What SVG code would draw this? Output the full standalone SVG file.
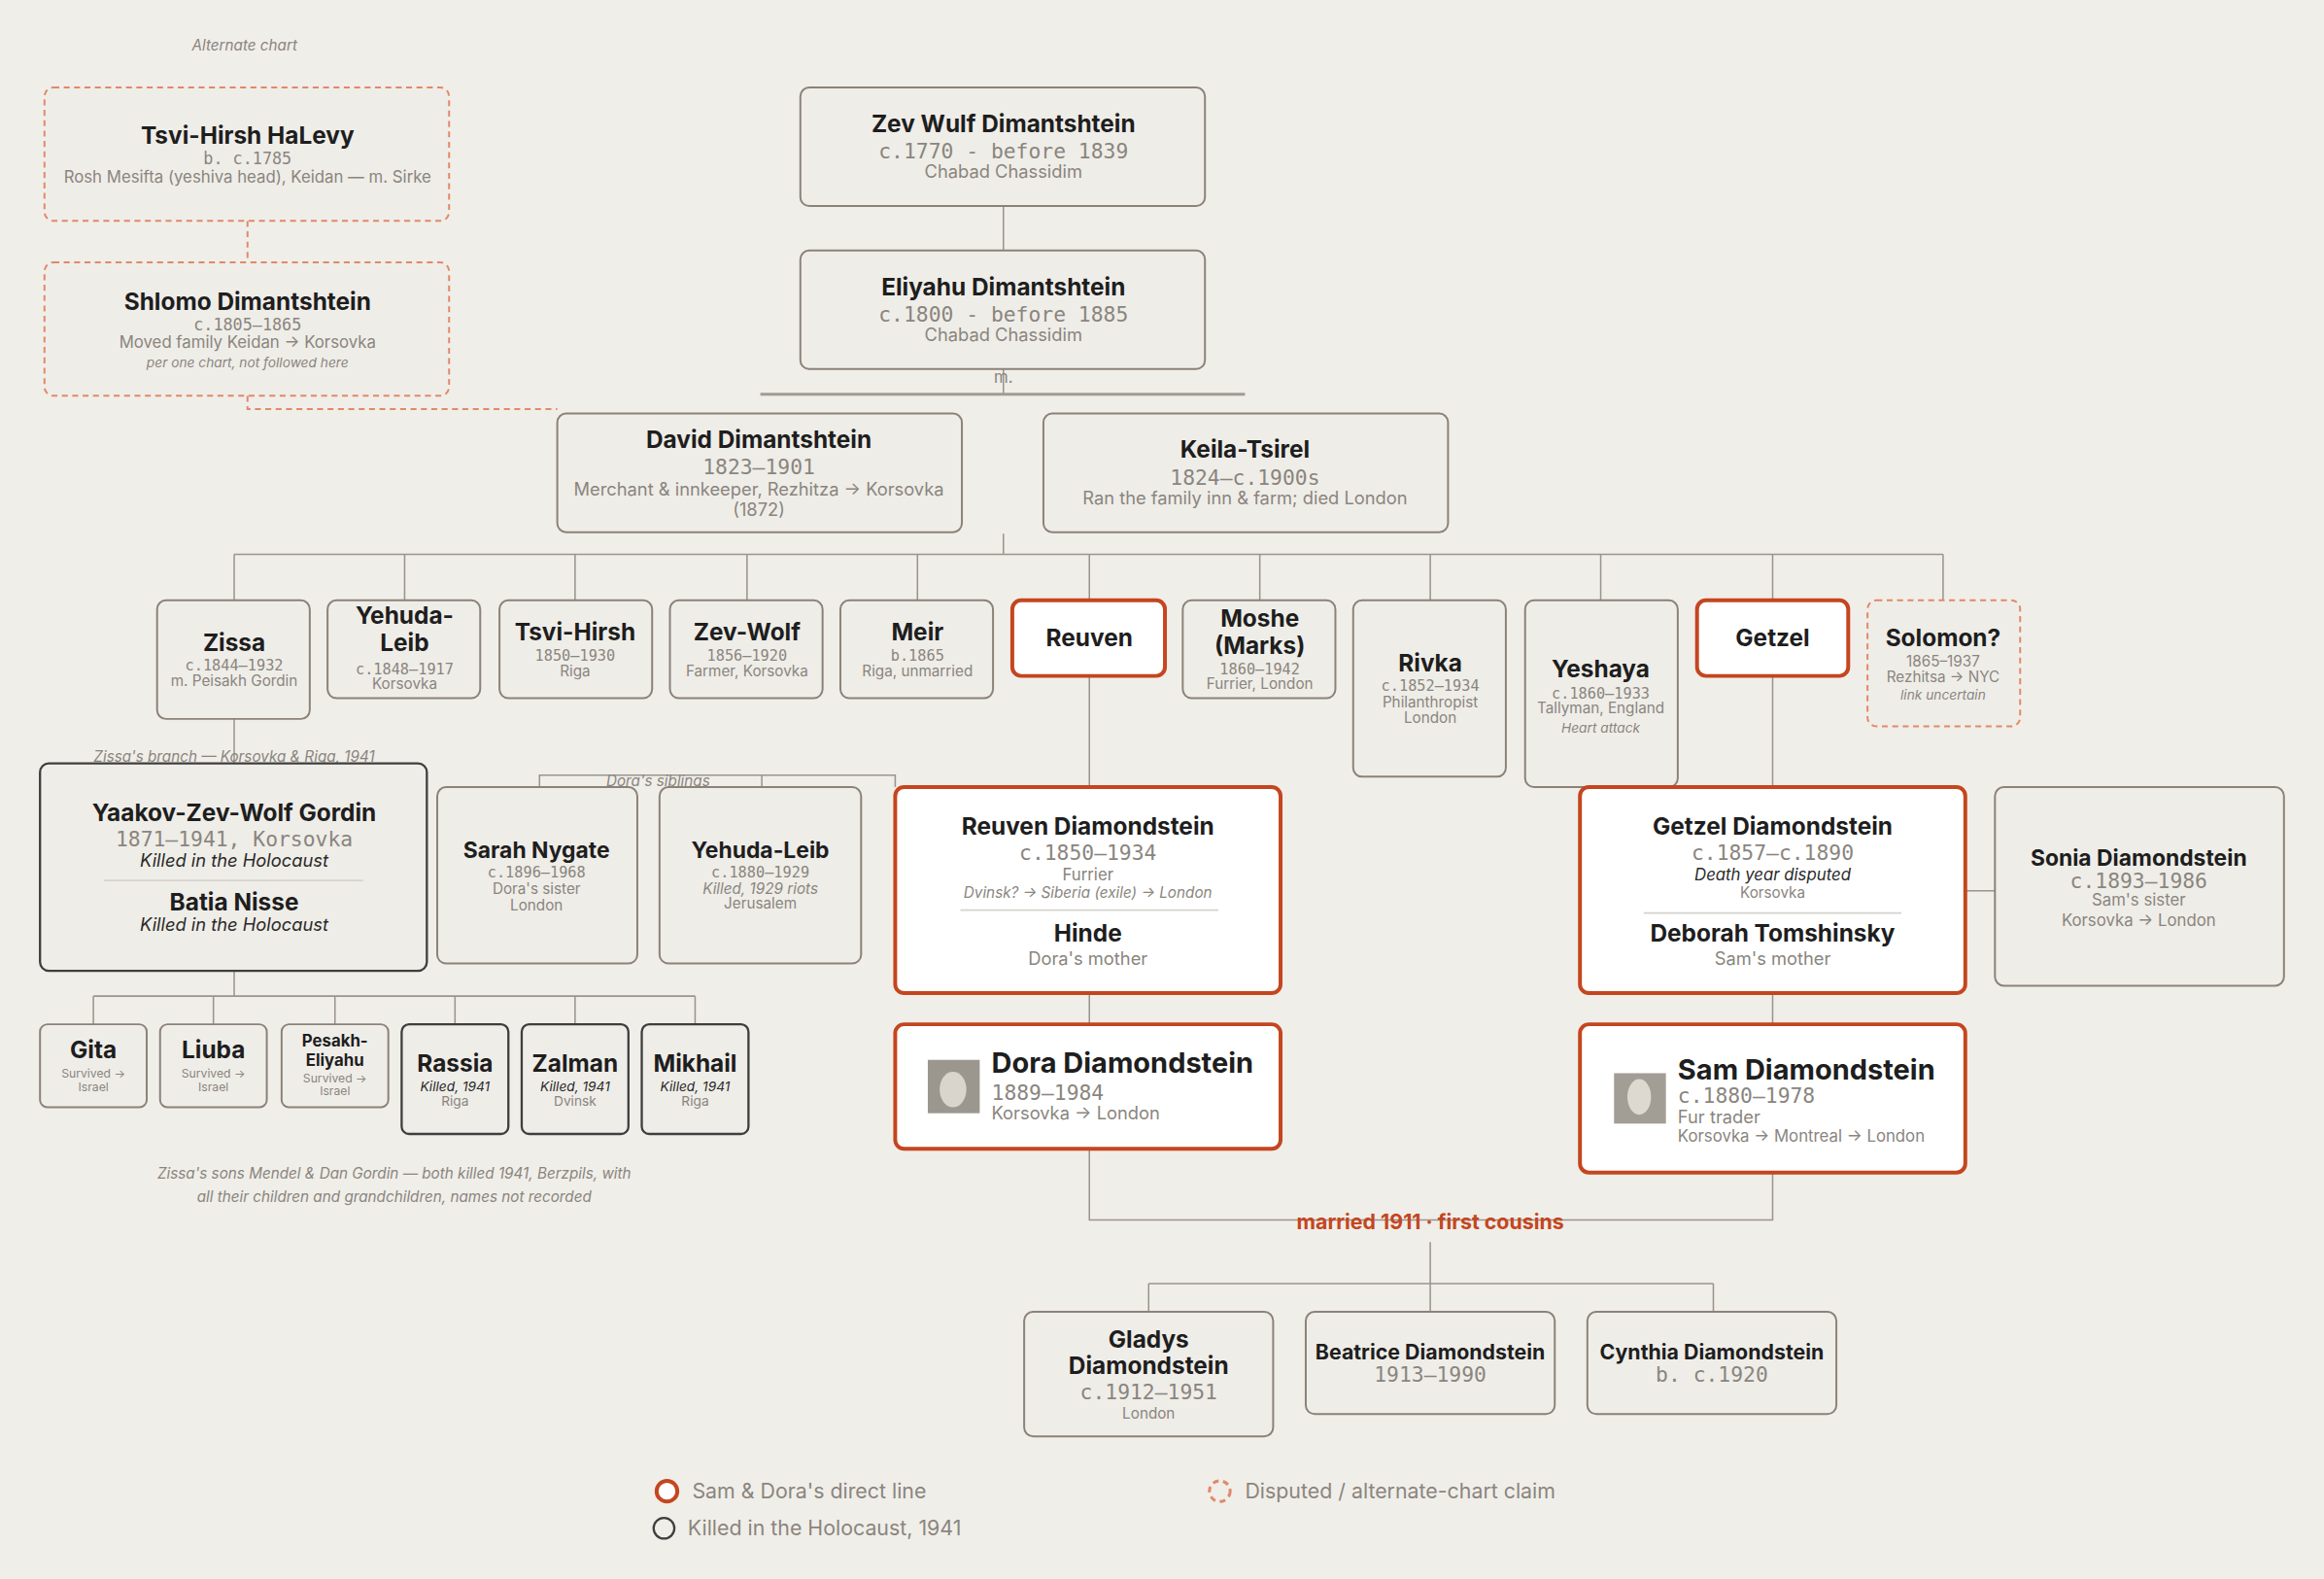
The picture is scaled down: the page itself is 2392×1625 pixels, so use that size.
<svg xmlns="http://www.w3.org/2000/svg" width="2392" height="1625" viewBox="0 0 2392 1625">
<style>
.b{fill:#efede8;stroke:#8b8278;stroke-width:1.3}
.r{fill:#ffffff;stroke:#c4461f;stroke-width:2.6}
.d{fill:#efede8;stroke:#e0896a;stroke-width:1.3;stroke-dasharray:4 3}
.k{fill:#efede8;stroke:#3e3e3e;stroke-width:1.5}
.ln{stroke:#9a948c;stroke-width:1;fill:none}
.dl{stroke:#e0896a;stroke-width:1.3;stroke-dasharray:4 3;fill:none}
text{font-family:Inter,"Liberation Sans",sans-serif;text-anchor:middle;fill:#8a857e}
.t{font-weight:700;fill:#1e1e1e}
.m{font-family:"DejaVu Sans Mono","Liberation Mono",monospace}
.i{font-style:italic}
.dk{fill:#2a2a2a}
.red{fill:#c4461f;font-weight:700}
.s{text-anchor:start}
.sep{stroke:#d6d3cd;stroke-width:1.2}
</style>
<rect width="2392" height="1625" fill="#f0eee9"/>
<g transform="scale(1.5255)">
<g id="connectors">
<path class="dl" d="M167 149V177M167 267V276H376"/>
<path class="ln" d="M677 139V169M677 249V266M677 360V374M158 374H1311M158 374V405M273 374V405M388 374V405M504 374V405M619 374V405M735 374V405M850 374V405M965 374V405M1080 374V405M1196 374V405M1311 374V405"/>
<path d="M513 266H840" stroke="#a19b93" stroke-width="2"/>
<path class="ln" d="M158 485V515M158 655V672M63 672H469M63 672V691M144 672V691M226 672V691M307 672V691M388 672V691M469 672V691"/>
<path class="ln" d="M364 531V523H604V531M514 523V531"/>
<path class="ln" d="M735 456V531M735 670V691M1196 456V531M1196 670V691M1326 601H1346"/>
<path class="ln" d="M735 775V823H1196V791"/>
<path class="ln" d="M965 838V866M775 866H1156M775 866V885M965 866V885M1156 866V885"/>
</g>
<text x="165" y="34" font-size="10" class="i">Alternate chart</text>
<g id="tsvi-hirsh-halevy"><rect class="d" x="30" y="59" width="273" height="90" rx="6"/>
<text x="167" y="97" font-size="16" class="t">Tsvi-Hirsh HaLevy</text><text x="167" y="111" font-size="11" class="m">b. c.1785</text><text x="167" y="123" font-size="11">Rosh Mesifta (yeshiva head), Keidan — m. Sirke</text></g>
<g id="shlomo"><rect class="d" x="30" y="177" width="273" height="90" rx="6"/>
<text x="167" y="209" font-size="16" class="t">Shlomo Dimantshtein</text><text x="167" y="223" font-size="11" class="m">c.1805–1865</text><text x="167" y="235" font-size="11">Moved family Keidan → Korsovka</text><text x="167" y="248" font-size="9" class="i">per one chart, not followed here</text></g>
<g id="zev"><rect class="b" x="540" y="59" width="273" height="80" rx="6"/>
<text x="677" y="89" font-size="16" class="t">Zev Wulf Dimantshtein</text><text x="677" y="107" font-size="14" class="m">c.1770 - before 1839</text><text x="677" y="120" font-size="12">Chabad Chassidim</text></g>
<g id="eliyahu"><rect class="b" x="540" y="169" width="273" height="80" rx="6"/>
<text x="677" y="199" font-size="16" class="t">Eliyahu Dimantshtein</text><text x="677" y="217" font-size="14" class="m">c.1800 - before 1885</text><text x="677" y="230" font-size="12">Chabad Chassidim</text></g>
<text x="677" y="258" font-size="11">m.</text>
<g id="david"><rect class="b" x="376" y="279" width="273" height="80" rx="6"/>
<text x="512" y="302" font-size="16" class="t">David Dimantshtein</text><text x="512" y="320" font-size="14" class="m">1823–1901</text><text x="512" y="334" font-size="12">Merchant &amp; innkeeper, Rezhitza → Korsovka</text><text x="512" y="348" font-size="12">(1872)</text></g>
<g id="keila"><rect class="b" x="704" y="279" width="273" height="80" rx="6"/>
<text x="840" y="309" font-size="16" class="t">Keila-Tsirel</text><text x="840" y="327" font-size="14" class="m">1824–c.1900s</text><text x="840" y="340" font-size="12">Ran the family inn &amp; farm; died London</text></g>
<g id="zissa"><rect class="b" x="106" y="405" width="103" height="80" rx="6"/>
<text x="158" y="439" font-size="16" class="t">Zissa</text><text x="158" y="452" font-size="10" class="m">c.1844–1932</text><text x="158" y="463" font-size="10">m. Peisakh Gordin</text></g>
<g id="yehuda-leib"><rect class="b" x="221" y="405" width="103" height="66" rx="6"/>
<text x="273" y="421" font-size="16" class="t">Yehuda-</text><text x="273" y="439" font-size="16" class="t">Leib</text><text x="273" y="455" font-size="10" class="m">c.1848–1917</text><text x="273" y="465" font-size="10">Korsovka</text></g>
<g id="tsvi-hirsh"><rect class="b" x="337" y="405" width="103" height="66" rx="6"/>
<text x="388" y="432" font-size="16" class="t">Tsvi-Hirsh</text><text x="388" y="446" font-size="10" class="m">1850–1930</text><text x="388" y="456" font-size="10">Riga</text></g>
<g id="zev-wolf"><rect class="b" x="452" y="405" width="103" height="66" rx="6"/>
<text x="504" y="432" font-size="16" class="t">Zev-Wolf</text><text x="504" y="446" font-size="10" class="m">1856–1920</text><text x="504" y="456" font-size="10">Farmer, Korsovka</text></g>
<g id="meir"><rect class="b" x="567" y="405" width="103" height="66" rx="6"/>
<text x="619" y="432" font-size="16" class="t">Meir</text><text x="619" y="446" font-size="10" class="m">b.1865</text><text x="619" y="456" font-size="10">Riga, unmarried</text></g>
<g id="reuven"><rect class="r" x="683" y="405" width="103" height="51" rx="6"/>
<text x="735" y="436" font-size="16" class="t">Reuven</text></g>
<g id="moshe"><rect class="b" x="798" y="405" width="103" height="66" rx="6"/>
<text x="850" y="423" font-size="16" class="t">Moshe</text><text x="850" y="441" font-size="16" class="t">(Marks)</text><text x="850" y="455" font-size="10" class="m">1860–1942</text><text x="850" y="465" font-size="10">Furrier, London</text></g>
<g id="rivka"><rect class="b" x="913" y="405" width="103" height="119" rx="6"/>
<text x="965" y="453" font-size="16" class="t">Rivka</text><text x="965" y="466" font-size="10" class="m">c.1852–1934</text><text x="965" y="477" font-size="10">Philanthropist</text><text x="965" y="488" font-size="10">London</text></g>
<g id="yeshaya"><rect class="b" x="1029" y="405" width="103" height="126" rx="6"/>
<text x="1080" y="457" font-size="16" class="t">Yeshaya</text><text x="1080" y="471" font-size="10" class="m">c.1860–1933</text><text x="1080" y="481" font-size="10">Tallyman, England</text><text x="1080" y="494" font-size="9" class="i">Heart attack</text></g>
<g id="getzel"><rect class="r" x="1145" y="405" width="102" height="51" rx="6"/>
<text x="1196" y="436" font-size="16" class="t">Getzel</text></g>
<g id="solomon"><rect class="d" x="1260" y="405" width="103" height="85" rx="6"/>
<text x="1311" y="436" font-size="16" class="t">Solomon?</text><text x="1311" y="450" font-size="10">1865–1937</text><text x="1311" y="460" font-size="10">Rezhitsa → NYC</text><text x="1311" y="472" font-size="9" class="i">link uncertain</text></g>
<text x="158" y="514" font-size="10" class="i">Zissa's branch — Korsovka &amp; Riga, 1941</text>
<g id="yaakov"><rect class="k" x="27" y="515" width="261" height="140" rx="6"/>
<text x="158" y="554" font-size="16" class="t">Yaakov-Zev-Wolf Gordin</text><text x="158" y="571" font-size="14" class="m">1871–1941, Korsovka</text><text x="158" y="585" font-size="12" class="i dk">Killed in the Holocaust</text>
<line class="sep" x1="70" y1="594" x2="245" y2="594"/>
<text x="158" y="614" font-size="16" class="t">Batia Nisse</text><text x="158" y="628" font-size="12" class="i dk">Killed in the Holocaust</text></g>
<text x="444" y="530" font-size="10" class="i">Dora's siblings</text>
<g id="sarah"><rect class="b" x="295" y="531" width="135" height="119" rx="6"/>
<text x="362" y="579" font-size="15" class="t">Sarah Nygate</text><text x="362" y="592" font-size="10" class="m">c.1896–1968</text><text x="362" y="603" font-size="10">Dora's sister</text><text x="362" y="614" font-size="10">London</text></g>
<g id="yehuda-leib-2"><rect class="b" x="445" y="531" width="136" height="119" rx="6"/>
<text x="513" y="579" font-size="15" class="t">Yehuda-Leib</text><text x="513" y="592" font-size="10" class="m">c.1880–1929</text><text x="513" y="603" font-size="10" class="i">Killed, 1929 riots</text><text x="513" y="613" font-size="10">Jerusalem</text></g>
<g id="reuven-d"><rect class="r" x="604" y="531" width="260" height="139" rx="6"/>
<text x="734" y="563" font-size="16" class="t">Reuven Diamondstein</text><text x="734" y="580" font-size="14" class="m">c.1850–1934</text><text x="734" y="594" font-size="11">Furrier</text><text x="734" y="606" font-size="10" class="i">Dvinsk? → Siberia (exile) → London</text>
<line class="sep" x1="648" y1="614" x2="822" y2="614"/>
<text x="734" y="635" font-size="16" class="t">Hinde</text><text x="734" y="651" font-size="12">Dora's mother</text></g>
<g id="dora"><rect class="r" x="604" y="691" width="260" height="84" rx="6"/>
<rect x="626" y="715" width="35" height="36" fill="#9b968e"/><ellipse cx="643" cy="735" rx="9" ry="12" fill="#d9d4cc"/>
<text x="669" y="724" font-size="19" class="t s">Dora Diamondstein</text><text x="669" y="742" font-size="14" class="m s">1889–1984</text><text x="669" y="755" font-size="12" class="s">Korsovka → London</text></g>
<g id="getzel-d"><rect class="r" x="1066" y="531" width="260" height="139" rx="6"/>
<text x="1196" y="563" font-size="16" class="t">Getzel Diamondstein</text><text x="1196" y="580" font-size="14" class="m">c.1857–c.1890</text><text x="1196" y="594" font-size="11" class="i dk">Death year disputed</text><text x="1196" y="606" font-size="10">Korsovka</text>
<line class="sep" x1="1109" y1="616" x2="1283" y2="616"/>
<text x="1196" y="635" font-size="16" class="t">Deborah Tomshinsky</text><text x="1196" y="651" font-size="12">Sam's mother</text></g>
<g id="sonia"><rect class="b" x="1346" y="531" width="195" height="134" rx="6"/>
<text x="1443" y="584" font-size="15" class="t">Sonia Diamondstein</text><text x="1443" y="599" font-size="14" class="m">c.1893–1986</text><text x="1443" y="611" font-size="11">Sam's sister</text><text x="1443" y="625" font-size="11">Korsovka → London</text></g>
<g id="sam"><rect class="r" x="1066" y="691" width="260" height="100" rx="6"/>
<rect x="1089" y="724" width="35" height="34" fill="#a29d95"/><ellipse cx="1106" cy="740" rx="8" ry="12" fill="#ddd8d0"/>
<text x="1132" y="728" font-size="19" class="t s">Sam Diamondstein</text><text x="1132" y="744" font-size="14" class="m s">c.1880–1978</text><text x="1132" y="758" font-size="12" class="s">Fur trader</text><text x="1132" y="770" font-size="11" class="s">Korsovka → Montreal → London</text></g>
<text x="965" y="829" font-size="14" class="red">married 1911 · first cousins</text>
<g id="gladys"><rect class="b" x="691" y="885" width="168" height="84" rx="6"/>
<text x="775" y="909" font-size="16" class="t">Gladys</text><text x="775" y="927" font-size="16" class="t">Diamondstein</text><text x="775" y="944" font-size="14" class="m">c.1912–1951</text><text x="775" y="957" font-size="10">London</text></g>
<g id="beatrice"><rect class="b" x="881" y="885" width="168" height="69" rx="6"/>
<text x="965" y="917" font-size="14" class="t">Beatrice Diamondstein</text><text x="965" y="932" font-size="14" class="m">1913–1990</text></g>
<g id="cynthia"><rect class="b" x="1071" y="885" width="168" height="69" rx="6"/>
<text x="1155" y="917" font-size="14" class="t">Cynthia Diamondstein</text><text x="1155" y="932" font-size="14" class="m">b. c.1920</text></g>
<g id="gita"><rect class="b" x="27" y="691" width="72" height="56" rx="5"/>
<text x="63" y="714" font-size="16" class="t">Gita</text><text x="63" y="727" font-size="8">Survived →</text><text x="63" y="736" font-size="8">Israel</text></g>
<g id="liuba"><rect class="b" x="108" y="691" width="72" height="56" rx="5"/>
<text x="144" y="714" font-size="16" class="t">Liuba</text><text x="144" y="727" font-size="8">Survived →</text><text x="144" y="736" font-size="8">Israel</text></g>
<g id="pesakh"><rect class="b" x="190" y="691" width="72" height="56" rx="5"/>
<text x="226" y="706" font-size="11" class="t">Pesakh-</text><text x="226" y="719" font-size="11" class="t">Eliyahu</text><text x="226" y="730" font-size="8">Survived →</text><text x="226" y="739" font-size="8">Israel</text></g>
<g id="rassia"><rect class="k" x="271" y="691" width="72" height="74" rx="5"/>
<text x="307" y="723" font-size="16" class="t">Rassia</text><text x="307" y="736" font-size="9" class="i dk">Killed, 1941</text><text x="307" y="746" font-size="9">Riga</text></g>
<g id="zalman"><rect class="k" x="352" y="691" width="72" height="74" rx="5"/>
<text x="388" y="723" font-size="16" class="t">Zalman</text><text x="388" y="736" font-size="9" class="i dk">Killed, 1941</text><text x="388" y="746" font-size="9">Dvinsk</text></g>
<g id="mikhail"><rect class="k" x="433" y="691" width="72" height="74" rx="5"/>
<text x="469" y="723" font-size="16" class="t">Mikhail</text><text x="469" y="736" font-size="9" class="i dk">Killed, 1941</text><text x="469" y="746" font-size="9">Riga</text></g>
<text x="266" y="795" font-size="10" class="i">Zissa's sons Mendel &amp; Dan Gordin — both killed 1941, Berzpils, with</text>
<text x="266" y="811" font-size="10" class="i">all their children and grandchildren, names not recorded</text>
<g id="legend">
<circle cx="450" cy="1006" r="7" fill="#fff" stroke="#c4461f" stroke-width="2.6"/>
<text x="467" y="1011" font-size="14" class="s">Sam &amp; Dora's direct line</text>
<circle cx="448" cy="1031" r="7" fill="none" stroke="#3e3e3e" stroke-width="1.5"/>
<text x="464" y="1036" font-size="14" class="s">Killed in the Holocaust, 1941</text>
<circle cx="823" cy="1006" r="7" fill="none" stroke="#e0896a" stroke-width="2" stroke-dasharray="4 3"/>
<text x="840" y="1011" font-size="14" class="s">Disputed / alternate-chart claim</text>
</g>
</g>
</svg>
